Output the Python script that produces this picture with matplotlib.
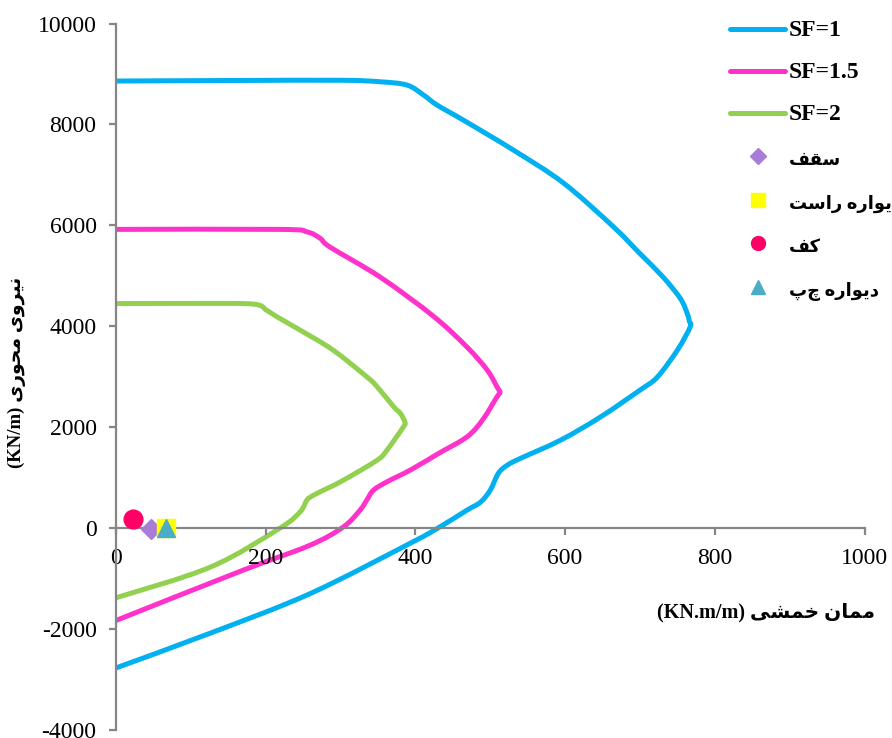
import matplotlib
matplotlib.use("Agg")
import matplotlib.pyplot as plt
from matplotlib.lines import Line2D
from matplotlib.path import Path
from matplotlib.patches import PathPatch

plt.rcParams['axes.unicode_minus'] = False

# ---- interaction curves: bending moment (KN.m/m) vs axial force (KN/m) ----
sf1_m = [0, 126, 259, 393, 430, 469, 487, 500, 511, 523, 540, 594, 647, 700, 723,
         750, 767, 766, 763, 754, 731, 700, 665, 598, 531, 464, 429, 411, 389, 353,
         300, 150, 0]
sf1_n = [-2770, -2081, -1300, -300, 0, 357, 515, 753, 1090, 1250, 1380, 1744, 2200, 2735, 2990,
         3527, 3983, 4100, 4260, 4550, 4974, 5440, 5965, 6837, 7491, 8086, 8383, 8581, 8779, 8845,
         8875, 8870, 8860]

sf15_m = [0, 170, 259, 304, 326, 335, 344, 362, 393, 431, 469, 490, 509, 513, 509,
          496, 469, 424, 353, 286, 273, 255, 219, 0]
sf15_n = [-1830, -832, -340, 27, 357, 555, 753, 918, 1149, 1480, 1810, 2150, 2602, 2690, 2800,
          3131, 3587, 4200, 4974, 5569, 5741, 5872, 5920, 5920]

sf2_m = [0, 126, 219, 246, 255, 264, 282, 304, 349, 362, 384, 386, 380, 371, 349,
         335, 290, 246, 215, 201, 184, 112, 0]
sf2_n = [-1380, -773, 0, 324, 555, 654, 786, 951, 1348, 1546, 2008, 2100, 2273, 2404, 2800,
         2999, 3528, 3924, 4188, 4320, 4439, 4453, 4450]

# ---- member demands ----
roof_m, roof_n = [47], [-26]          # سقف
rwall_m, rwall_n = [67], [10]         # دیواره راست
floor_m, floor_n = [23], [172]        # کف
lwall_m, lwall_n = [67], [12]         # دیواره چپ

x_ticks = [0, 200, 400, 600, 800, 1000]
y_ticks = [-4000, -2000, 0, 2000, 4000, 6000, 8000, 10000]

series_names = ['SF=1', 'SF=1.5', 'SF=2']
member_names = ['سقف', 'دیواره راست', 'کف', 'دیواره چپ']

# ---- minimal Persian shaping (presentation forms, visual order) ----
FORMS = {
    'ا': ('\uFE8D', '\uFE8E'),
    'د': ('\uFEA9', '\uFEAA'),
    'ر': ('\uFEAD', '\uFEAE'),
    'و': ('\uFEED', '\uFEEE'),
    'ت': ('\uFE95', '\uFE96', '\uFE97', '\uFE98'),
    'ح': ('\uFEA1', '\uFEA2', '\uFEA3', '\uFEA4'),
    'خ': ('\uFEA5', '\uFEA6', '\uFEA7', '\uFEA8'),
    'س': ('\uFEB1', '\uFEB2', '\uFEB3', '\uFEB4'),
    'ش': ('\uFEB5', '\uFEB6', '\uFEB7', '\uFEB8'),
    'ف': ('\uFED1', '\uFED2', '\uFED3', '\uFED4'),
    'ق': ('\uFED5', '\uFED6', '\uFED7', '\uFED8'),
    'م': ('\uFEE1', '\uFEE2', '\uFEE3', '\uFEE4'),
    'ن': ('\uFEE5', '\uFEE6', '\uFEE7', '\uFEE8'),
    'ه': ('\uFEE9', '\uFEEA', '\uFEEB', '\uFEEC'),
    'ی': ('\uFBFC', '\uFBFD', '\uFBFE', '\uFBFF'),
    'ک': ('\uFB8E', '\uFB8F', '\uFB90', '\uFB91'),
    'چ': ('\uFB7A', '\uFB7B', '\uFB7C', '\uFB7D'),
}


def fa(text):
    out = []
    for i, c in enumerate(text):
        if c not in FORMS:
            out.append(c)
            continue
        prev = text[i - 1] if i > 0 else ''
        nxt = text[i + 1] if i + 1 < len(text) else ''
        join_prev = prev in FORMS and len(FORMS[prev]) == 4
        join_next = len(FORMS[c]) == 4 and nxt in FORMS
        f = FORMS[c]
        if join_prev and join_next:
            out.append(f[3])
        elif join_prev:
            out.append(f[1])
        elif join_next:
            out.append(f[2])
        else:
            out.append(f[0])
    return ''.join(out)[::-1]


def smooth_line(ax, xs, ys, **kw):
    """Draw a smoothed line (cubic Bezier through every point, Catmull-Rom tangents)."""
    pts = list(zip(xs, ys))
    n = len(pts)
    verts = [pts[0]]
    codes = [Path.MOVETO]
    for i in range(n - 1):
        p0 = pts[i - 1] if i > 0 else pts[i]
        p1 = pts[i]
        p2 = pts[i + 1]
        p3 = pts[i + 2] if i + 2 < n else pts[i + 1]
        c1 = (p1[0] + (p2[0] - p0[0]) / 6, p1[1] + (p2[1] - p0[1]) / 6)
        c2 = (p2[0] - (p3[0] - p1[0]) / 6, p2[1] - (p3[1] - p1[1]) / 6)
        verts += [c1, c2, p2]
        codes += [Path.CURVE4] * 3
    patch = PathPatch(Path(verts, codes), facecolor='none', capstyle='round',
                      joinstyle='round', **kw)
    ax.add_patch(patch)
    return patch


FAM = ['Liberation Serif', 'DejaVu Sans']
GRAY = '#868686'
C1, C15, C2 = '#00B0F0', '#FF33CC', '#92D050'
C_ROOF, C_RWALL, C_FLOOR, C_LWALL = '#A97DD6', '#FFFF00', '#FF0066', '#4BACC6'
W, H = 892, 738

fig = plt.figure(figsize=(W / 100, H / 100), dpi=100)
ax = fig.add_axes([116 / W, 1 - 730 / H, (864.5 - 116) / W, (730 - 23.5) / H])

lw = 3.6
smooth_line(ax, sf1_m, sf1_n, edgecolor=C1, lw=lw)
smooth_line(ax, sf15_m, sf15_n, edgecolor=C15, lw=lw)
smooth_line(ax, sf2_m, sf2_n, edgecolor=C2, lw=lw)

ax.plot(floor_m, floor_n, ls='none', marker='o', ms=13.5, color=C_FLOOR, zorder=5)
ax.plot(roof_m, roof_n, ls='none', marker='D', ms=10, color=C_ROOF, zorder=5)
ax.plot(rwall_m, rwall_n, ls='none', marker='s', ms=13, color=C_RWALL, zorder=5)
ax.plot(lwall_m, lwall_n, ls='none', marker='^', ms=13, color=C_LWALL, zorder=6)

ax.set_xlim(0, 1000)
ax.set_ylim(-4000, 10000)
ax.set_xticks(x_ticks)
ax.set_xticklabels([str(v) for v in x_ticks])
ax.set_yticks(y_ticks)
ax.set_yticklabels([str(v) for v in y_ticks])

for s in ('top', 'right'):
    ax.spines[s].set_visible(False)
ax.spines['bottom'].set_position(('data', 0))
ax.spines['left'].set_position(('data', 0))
for s in ('bottom', 'left'):
    ax.spines[s].set_color(GRAY)
    ax.spines[s].set_linewidth(1.6)

ax.tick_params(axis='both', direction='out', length=5, width=1.6, color=GRAY,
               labelsize=17, labelcolor='black')
ax.tick_params(axis='y', pad=9)
ax.tick_params(axis='x', pad=9)
for t in ax.get_xticklabels() + ax.get_yticklabels():
    t.set_family('Liberation Serif')

fig.text(766 / W, 1 - 612 / H, '(KN.m/m) ' + fa('ممان خمشی'),
         ha='center', va='center', fontsize=14.5, fontweight='bold', family=FAM)
fig.text(17 / W, 1 - 372 / H, '(KN/m) ' + fa('نیروی محوری'),
         ha='center', va='center', rotation=90, fontsize=13.5, fontweight='bold',
         family=FAM)

# ---- key (drawn in figure pixels) ----
rows = [29, 71, 113, 156, 200, 243, 287]
x_h0, x_h1, x_txt = 730, 785, 789
for name, col, y in zip(series_names, [C1, C15, C2], rows[:3]):
    fig.add_artist(Line2D([x_h0 / W, x_h1 / W], [1 - y / H, 1 - y / H], color=col, lw=lw,
                          solid_capstyle='round', transform=fig.transFigure))
    fig.text(x_txt / W, 1 - (y + 7.5) / H, name, ha='left', va='baseline',
             fontsize=17, fontweight='bold', family=FAM)
for name, (mk, ms, col), y in zip(member_names,
                                  [('D', 8, C_ROOF), ('s', 10, C_RWALL),
                                   ('o', 10, C_FLOOR), ('^', 10, C_LWALL)], rows[3:]):
    xc = (x_h0 + x_h1) / 2
    fig.add_artist(Line2D([xc / W], [1 - y / H], ls='none', marker=mk, ms=ms, color=col,
                          transform=fig.transFigure))
    fig.text(x_txt / W, 1 - (y + 9) / H, fa(name), ha='left', va='baseline',
             fontsize=13, fontweight='bold', family=FAM)

fig.savefig('out.png', dpi=100)
